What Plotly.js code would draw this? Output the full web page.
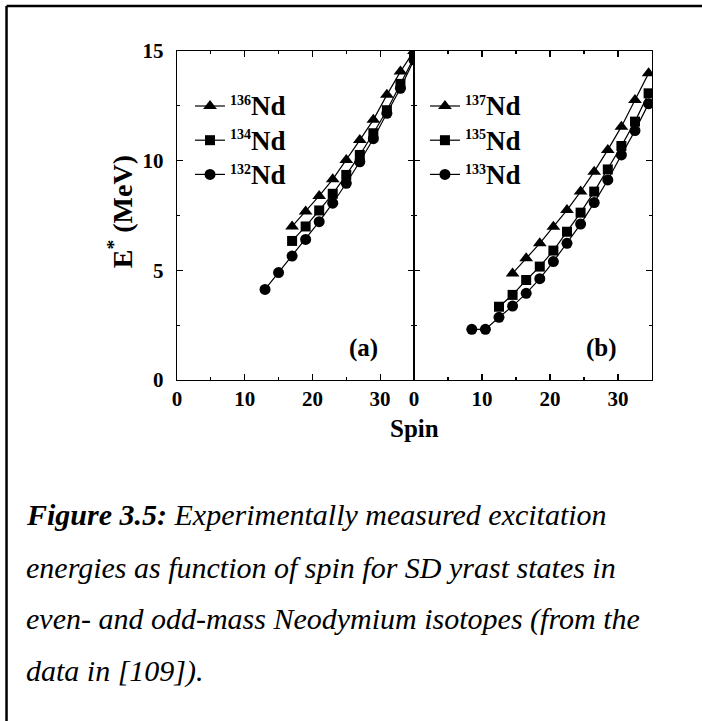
<!DOCTYPE html>
<html>
<head>
<meta charset="utf-8">
<script src="https://cdn.plot.ly/plotly-3.0.1.min.js"></script>
<style>html,body{margin:0;padding:0;background:#fff;}#chart{width:702px;height:721px;}</style>
</head>
<body>
<div id="chart"></div>
<script>
// Panel (a): even-mass isotopes
const spin132 = [13, 15, 17, 19, 21, 23, 25, 27, 29, 31, 33, 35];
const e132 = [4.13, 4.90, 5.65, 6.41, 7.22, 8.06, 8.97, 9.95, 11.0, 12.16, 13.3, 14.6];
const spin134 = [17, 19, 21, 23, 25, 27, 29, 31, 33, 35];
const e134 = [6.34, 7.0, 7.73, 8.49, 9.35, 10.26, 11.25, 12.3, 13.5, 14.7];
const spin136 = [17, 19, 21, 23, 25, 27, 29, 31, 33, 35];
const e136 = [7.0, 7.68, 8.39, 9.15, 10.03, 10.94, 11.86, 13.0, 14.06, 15.0];
// Panel (b): odd-mass isotopes
const spin133 = [8.5, 10.5, 12.5, 14.5, 16.5, 18.5, 20.5, 22.5, 24.5, 26.5, 28.5, 30.5, 32.5, 34.5];
const e133 = [2.31, 2.31, 2.86, 3.37, 3.95, 4.62, 5.40, 6.23, 7.11, 8.09, 9.12, 10.26, 11.37, 12.6];
const spin135 = [12.5, 14.5, 16.5, 18.5, 20.5, 22.5, 24.5, 26.5, 28.5, 30.5, 32.5, 34.5];
const e135 = [3.34, 3.88, 4.56, 5.17, 5.90, 6.76, 7.63, 8.59, 9.60, 10.67, 11.78, 13.07];
const spin137 = [14.5, 16.5, 18.5, 20.5, 22.5, 24.5, 26.5, 28.5, 30.5, 32.5, 34.5];
const e137 = [4.86, 5.55, 6.23, 6.99, 7.75, 8.59, 9.50, 10.49, 11.55, 12.77, 13.98];

const xTicks = [0, 10, 20, 30];
const yTicks = [0, 5, 10, 15];
const captionLines = [
  "<b><i>Figure 3.5:</i></b><i> Experimentally measured excitation</i>",
  "<i>energies as function of spin for SD yrast states in</i>",
  "<i>even- and odd-mass Neodymium isotopes (from the</i>",
  "<i>data in [109]).</i>"
];

const serif = "Liberation Serif";
function lab(mass){ return "<b><sup><span style='font-size:14px'>" + mass + "</span></sup><span style='font-size:27px'>Nd</span></b>"; }
function tr(x, y, sym, size, name, xa, ya, leg){
  return {x: x, y: y, type: 'scatter', mode: 'lines+markers', name: name,
    xaxis: xa, yaxis: ya, legend: leg,
    line: {color: '#000', width: 1.2},
    marker: {symbol: sym, size: size, color: '#000'}};
}
const data = [
  tr(spin136, e136, 'triangle-up', 12, lab(136), 'x', 'y', 'legend'),
  tr(spin134, e134, 'square', 10, lab(134), 'x', 'y', 'legend'),
  tr(spin132, e132, 'circle', 11, lab(132), 'x', 'y', 'legend'),
  tr(spin137, e137, 'triangle-up', 12, lab(137), 'x2', 'y2', 'legend2'),
  tr(spin135, e135, 'square', 10, lab(135), 'x2', 'y2', 'legend2'),
  tr(spin133, e133, 'circle', 11, lab(133), 'x2', 'y2', 'legend2')
];

const tickFont = {family: serif, size: 21, color: '#000'};
function xax(dom, anchor){
  return {domain: dom, anchor: anchor, range: [0, 35], tickvals: xTicks, ticktext: xTicks.map(v => '<b>' + v + '</b>'),
    ticks: 'inside', ticklen: 6, tickwidth: 1.2, tickcolor: '#000', mirror: 'ticks',
    showline: true, linecolor: '#000', linewidth: 1.2, showgrid: false, zeroline: false,
    tickfont: tickFont, minor: {dtick: 5, ticks: 'inside', ticklen: 3, tickcolor: '#000'}};
}
function yax(anchor, labels){
  return {domain: [0, 1], anchor: anchor, range: [0, 15], tickvals: yTicks, ticktext: yTicks.map(v => '<b>' + v + '</b>'),
    showticklabels: labels, ticks: 'inside', ticklen: 6, tickwidth: 1.2, tickcolor: '#000', mirror: 'ticks',
    showline: true, linecolor: '#000', linewidth: 1.2, showgrid: false, zeroline: false,
    ticklabelstandoff: 8,
    tickfont: tickFont, minor: {dtick: 2.5, ticks: 'inside', ticklen: 3, tickcolor: '#000'}};
}
const legFont = {family: serif, size: 24, color: '#000'};
const layout = {
  width: 702, height: 721,
  margin: {l: 177, r: 50, t: 51, b: 341, pad: 0},
  paper_bgcolor: '#fff', plot_bgcolor: '#fff',
  showlegend: true,
  xaxis: xax([0, 0.4989], 'y'),
  yaxis: yax('x', true),
  xaxis2: xax([0.4989, 1], 'y2'),
  yaxis2: yax('x2', false),
  legend: {x: 0.0274, y: 0.90, xanchor: 'left', yanchor: 'top', bgcolor: 'rgba(0,0,0,0)', font: legFont, tracegroupgap: 0, itemwidth: 30},
  legend2: {x: 0.522, y: 0.90, xanchor: 'left', yanchor: 'top', bgcolor: 'rgba(0,0,0,0)', font: legFont, tracegroupgap: 0, itemwidth: 30},
  annotations: [
    {text: '<b>(a)</b>', xref: 'paper', yref: 'paper', x: 0.3916, y: 0.097, xanchor: 'center', yanchor: 'middle', showarrow: false, font: {family: serif, size: 25, color: '#000'}},
    {text: '<b>(b)</b>', xref: 'paper', yref: 'paper', x: 0.8947, y: 0.097, xanchor: 'center', yanchor: 'middle', showarrow: false, font: {family: serif, size: 25, color: '#000'}},
    {text: '<b>Spin</b>', xref: 'paper', yref: 'paper', x: 0.501, y: -0.1459, xanchor: 'center', yanchor: 'middle', showarrow: false, font: {family: serif, size: 25, color: '#000'}},
    {text: '<b>E<sup>*</sup> (MeV)</b>', xref: 'paper', yref: 'paper', x: -0.12, y: 0.51, xanchor: 'center', yanchor: 'middle', textangle: -90, showarrow: false, font: {family: serif, size: 28, color: '#000'}}
  ].concat(captionLines.map((t, i) => ({
    text: t, xref: 'paper', yref: 'paper', x: -0.3221, y: [-0.4103, -0.5684, -0.7264, -0.8845][i],
    xanchor: 'left', yanchor: 'middle', showarrow: false, font: {family: serif, size: 30, color: '#000'}
  }))),
  shapes: [
    {type: 'line', xref: 'paper', yref: 'paper', x0: -0.3589, x1: -0.3589, y0: -1.2, y1: 1.1368, line: {color: '#000', width: 2.5}},
    {type: 'line', xref: 'paper', yref: 'paper', x0: -0.3589, x1: 1.2, y0: 1.1368, y1: 1.1368, line: {color: '#000', width: 2.5}}
  ]
};
Plotly.newPlot('chart', data, layout, {displayModeBar: false, staticPlot: true});
</script>
</body>
</html>
